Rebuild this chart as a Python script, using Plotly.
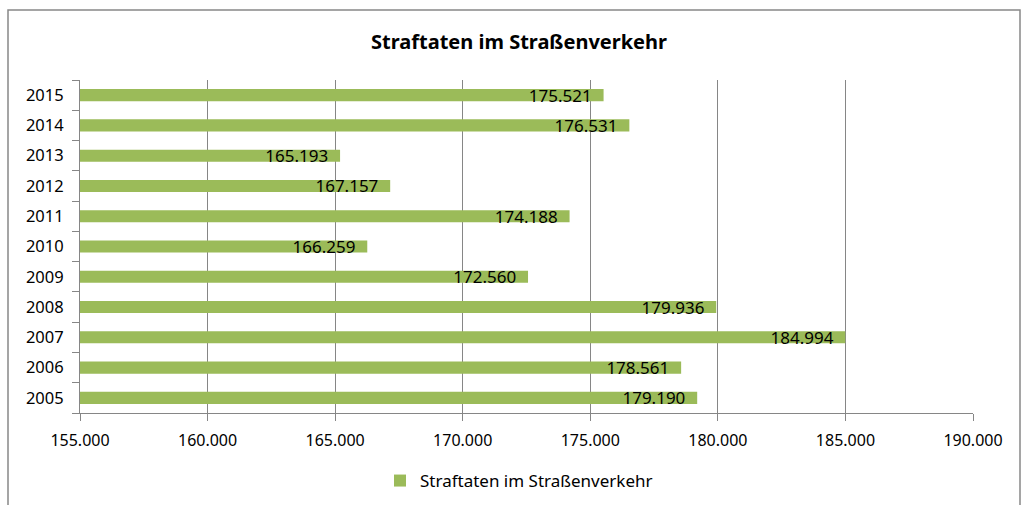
import plotly.graph_objects as go

years = ["2005", "2006", "2007", "2008", "2009", "2010", "2011", "2012", "2013", "2014", "2015"]
values = [179190, 178561, 184994, 179936, 172560, 166259, 174188, 167157, 165193, 176531, 175521]
series_name = "Straftaten im Straßenverkehr"
title_text = "Straftaten im Straßenverkehr"

GREEN = "#9BBB59"
GRID = "#868686"
FONT = "Noto Sans"

fig = go.Figure()
fig.add_trace(go.Bar(
    y=years, x=values, orientation="h", name=series_name,
    marker=dict(color=GREEN, line=dict(width=0)),
    width=0.4,
    texttemplate="%{x:,.0f}\u00a0\u00a0", textposition="inside", insidetextanchor="end",
    textfont=dict(family=FONT, size=17, color="#000000"),
    constraintext="none", cliponaxis=False,
))

L, R, T, B = 80, 973, 80, 413
W, H = 1022, 505
pw, ph = R - L, B - T
def px(x): return (x - L) / pw
def py(y): return (B - y) / ph

fig.update_layout(
    width=W, height=H,
    margin=dict(l=L, r=W - R, t=T, b=H - B, autoexpand=False),
    paper_bgcolor="white", plot_bgcolor="white",
    separators=",.",
    font=dict(family=FONT, size=16, color="#000000"),
    title=dict(text="<b>" + title_text + "</b>", x=519 / W, xanchor="center", y=1 - 42 / H, yanchor="middle",
               font=dict(family=FONT, size=20, color="#000000")),
    showlegend=True,
    legend=dict(orientation="h", x=px(519), xanchor="center", y=py(481), yanchor="middle",
                font=dict(family=FONT, size=17, color="#000000"), itemwidth=30),
    bargap=0.6,
    xaxis=dict(range=[155000, 190000], dtick=5000, tick0=155000, tickformat=",.0f",
               showgrid=True, gridcolor=GRID, gridwidth=1,
               showline=True, linecolor=GRID, linewidth=1,
               ticks="outside", ticklen=7, tickcolor=GRID, ticklabelstandoff=6,
               tickfont=dict(family=FONT, size=16, color="#000000"), zeroline=False,
               fixedrange=True),
    yaxis=dict(type="category", categoryorder="array", categoryarray=years,
               showline=True, linecolor=GRID, linewidth=1,
               ticks="outside", ticklen=7, tickcolor=GRID, tickson="boundaries",
               ticklabelstandoff=12,
               tickfont=dict(family=FONT, size=16.5, color="#000000"), showgrid=False,
               range=[-0.5, 10.5]),
    shapes=[dict(type="rect", xref="paper", yref="paper",
                 x0=px(8), x1=px(1020), y0=py(507), y1=py(10),
                 line=dict(color="#888888", width=1.5), fillcolor="rgba(0,0,0,0)", layer="below")],
)

fig.write_html("out.html", config={"displayModeBar": False},
               post_script="document.body.style.margin='0';document.body.style.overflow='hidden';")
